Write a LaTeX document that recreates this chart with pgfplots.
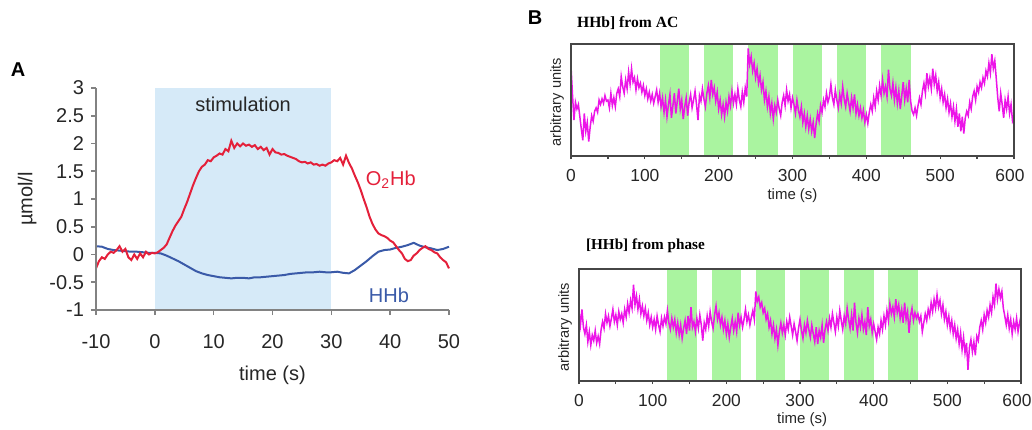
\documentclass[border=0pt]{standalone}
\usepackage{pgfplots}
\pgfplotsset{compat=1.18}
\usepackage{fontspec}
\setmainfont{Liberation Sans}
\newfontfamily\timesfont{Liberation Serif}
\definecolor{stimblue}{RGB}{214,234,248}
\definecolor{o2red}{RGB}{228,32,58}
\definecolor{hhbblue}{RGB}{58,90,168}
\definecolor{band}{RGB}{170,244,160}
\definecolor{mag}{RGB}{236,20,232}
\definecolor{axgray}{RGB}{130,130,130}
\definecolor{frame}{RGB}{70,70,70}
\begin{document}
\begin{tikzpicture}
\path[use as bounding box] (0,0) rectangle (516pt,214.5pt);
% ---------------- Panel A ----------------
\begin{axis}[
  at={(48pt,59.5pt)}, anchor=south west, scale only axis,
  width=176.5pt, height=111pt,
  xmin=-10, xmax=50, ymin=-1, ymax=3,
  axis x line*=bottom, axis y line*=left,
  axis line style={axgray, line width=0.8pt},
  every tick/.style={axgray, line width=0.8pt},
  tick align=outside, major tick length=2.5pt,
  xtick={-10,0,10,20,30,40,50},
  xticklabels={-10,0,10,20,30,40,50},
  ytick={-1,-0.5,0,0.5,1,1.5,2,2.5,3},
  yticklabels={-1,-0.5,0,0.5,1,1.5,2,2.5,3},
  ticklabel style={font=\fontsize{10}{12}\selectfont, text=black!85},
  xticklabel style={yshift=-6pt},
  xlabel={time (s)}, ylabel={µmol/l},
  label style={font=\fontsize{10}{12}\selectfont, text=black!85},
  xlabel style={at={(axis description cs:0.5,-0.293)}, anchor=center},
  ylabel style={at={(axis description cs:-0.195,0.5)}, anchor=center, rotate=0},
  clip=false, axis on top
]
\addplot[fill=stimblue, draw=none] coordinates {(0,-1) (0,3) (30,3) (30,-1)} -- cycle;
\addplot[hhbblue, line width=1pt] coordinates {
(-10,0.15)(-9,0.14)(-8,0.10)(-7,0.08)(-6,0.07)(-5,0.06)(-4,0.05)(-3,0.05)(-2,0.04)(-1,0.03)(0,0.03)(1,0.02)(2,-0.02)(3,-0.07)(4,-0.12)(5,-0.18)(6,-0.24)(7,-0.30)(8,-0.34)(9,-0.37)(10,-0.39)(11,-0.41)(12,-0.42)(13,-0.43)(14,-0.42)(15,-0.42)(16,-0.43)(17,-0.41)(18,-0.41)(19,-0.40)(20,-0.39)(21,-0.38)(22,-0.37)(23,-0.35)(24,-0.34)(25,-0.33)(26,-0.32)(27,-0.32)(28,-0.31)(29,-0.32)(30,-0.32)(31,-0.31)(32,-0.33)(33,-0.34)(34,-0.28)(35,-0.20)(36,-0.12)(37,-0.03)(38,0.05)(39,0.08)(40,0.09)(41,0.12)(42,0.14)(43,0.17)(44,0.21)(45,0.16)(46,0.13)(47,0.11)(48,0.08)(49,0.10)(50,0.14)};
\addplot[o2red, line width=1pt] coordinates {
(-10,-0.25)(-9.5,-0.12)(-9,-0.05)(-8.5,-0.08)(-8,0.0)(-7.5,0.05)(-7,0.03)(-6.5,0.08)(-6,0.15)(-5.5,0.05)(-5,0.10)(-4.5,-0.05)(-4,-0.10)(-3.5,0.0)(-3,-0.08)(-2.5,0.02)(-2,-0.05)(-1.5,0.05)(-1,0.0)(-0.5,0.03)(0,0.02)(0.5,0.04)(1,0.08)(1.5,0.12)(2,0.18)(2.5,0.30)(3,0.42)(3.5,0.52)(4,0.60)(4.5,0.68)(5,0.82)(5.5,0.95)(6,1.10)(6.5,1.25)(7,1.38)(7.5,1.50)(8,1.58)(8.5,1.62)(9,1.70)(9.5,1.68)(10,1.75)(10.5,1.78)(11,1.82)(11.5,1.80)(12,1.90)(12.5,1.86)(13,2.05)(13.5,1.92)(14,2.00)(14.5,1.95)(15,2.00)(15.5,1.96)(16,1.98)(16.5,1.94)(17,1.97)(17.5,1.90)(18,1.94)(18.5,1.88)(19,1.92)(19.5,1.80)(20,1.90)(20.5,1.84)(21,1.83)(21.5,1.80)(22,1.81)(22.5,1.78)(23,1.76)(23.5,1.74)(24,1.72)(24.5,1.68)(25,1.66)(25.5,1.67)(26,1.64)(26.5,1.66)(27,1.62)(27.5,1.63)(28,1.60)(28.5,1.62)(29,1.60)(29.5,1.64)(30,1.66)(30.5,1.70)(31,1.68)(31.5,1.74)(32,1.62)(32.5,1.78)(33,1.65)(33.5,1.55)(34,1.42)(34.5,1.30)(35,1.16)(35.5,1.00)(36,0.85)(36.5,0.68)(37,0.55)(37.5,0.45)(38,0.38)(38.5,0.35)(39,0.33)(39.5,0.30)(40,0.25)(40.5,0.22)(41,0.15)(41.5,0.08)(42,0.02)(42.5,-0.08)(43,-0.12)(43.5,-0.10)(44,-0.02)(44.5,0.02)(45,0.08)(45.5,0.12)(46,0.15)(46.5,0.10)(47,0.08)(47.5,0.04)(48,0.02)(48.5,-0.05)(49,-0.10)(49.5,-0.14)(50,-0.25)};
\node[font=\fontsize{10}{12}\selectfont, text=black!85] at (axis cs:15,2.7) {stimulation};
\node[font=\fontsize{10}{12}\selectfont, text=o2red] at (axis cs:40.1,1.34) {O\textsubscript{2}Hb};
\node[font=\fontsize{10}{12}\selectfont, text=hhbblue] at (axis cs:39.8,-0.73) {HHb};
\end{axis}
\node[font=\bfseries\fontsize{10}{12}\selectfont] at (9pt,179.5pt) {A};
\node[font=\bfseries\fontsize{10}{12}\selectfont] at (267.5pt,205.5pt) {B};
% ---------------- Panel B top ----------------
\pgfplotsset{panelB/.style={
  scale only axis, anchor=south west,
  xmin=0, xmax=600, ymin=0, ymax=10,
  ytick=\empty, xtick={0,100,...,600},
  xticklabels={0,100,200,300,400,500,\hspace*{-4pt}600}, minor x tick num=1,
  axis line style={frame, line width=0.7pt},
  every tick/.style={frame, line width=0.6pt},
  tick align=outside, xtick pos=bottom,
  major tick length=1.5pt, minor tick length=1.5pt,
  ticklabel style={font=\fontsize{8.7}{10}\selectfont, text=black!85},
  xticklabel style={yshift=-1.5pt},
  xlabel={time (s)}, ylabel={arbitrary units},
  xlabel style={font=\fontsize{7.5}{9}\selectfont, text=black!85, anchor=center},
  ylabel style={font=\fontsize{7.3}{9}\selectfont, text=black!85, anchor=center, rotate=0},
  title style={font=\timesfont\bfseries\fontsize{7.8}{9}\selectfont, anchor=west},
  clip=false, axis on top
}}
\begin{axis}[panelB,
  at={(285.5pt,136.5pt)}, width=221.5pt, height=56pt,
  xlabel style={at={(axis description cs:0.5,-0.357)}},
  ylabel style={at={(axis description cs:-0.0316,0.48)}},
  title={HHb] from AC}, title style={at={(axis description cs:-0.002,1.08)}}
]
\addplot[fill=band, draw=none] coordinates {(120,0)(120,10)(160,10)(160,0)} -- cycle;
\addplot[fill=band, draw=none] coordinates {(180,0)(180,10)(220,10)(220,0)} -- cycle;
\addplot[fill=band, draw=none] coordinates {(240,0)(240,10)(280,10)(280,0)} -- cycle;
\addplot[fill=band, draw=none] coordinates {(300,0)(300,10)(340,10)(340,0)} -- cycle;
\addplot[fill=band, draw=none] coordinates {(360,0)(360,10)(400,10)(400,0)} -- cycle;
\addplot[fill=band, draw=none] coordinates {(420,0)(420,10)(460,10)(460,0)} -- cycle;
\addplot[mag, line width=0.75pt] coordinates {
(0,8.0)(2,5.5)(4,3.2)(6,4.8)(8,4.2)(10,4.6)(12,3.5)(14,2.4)(16,1.4)(18,3.8)(20,2.2)(22,3.0)(24,1.3)(26,2.6)(28,3.6)(30,3.1)(32,4.0)(34,4.3)(36,3.9)(38,5.0)(40,4.6)(42,5.1)(44,4.7)(46,5.4)(48,4.9)(50,5.0)(52,4.3)(54,5.6)(56,4.5)(58,5.2)(60,4.4)(62,5.6)(64,6.0)(66,5.3)(68,7.1)(70,6.2)(72,5.6)(74,6.8)(76,6.0)(78,7.5)(80,6.4)(82,7.8)(84,6.6)(86,7.0)(88,5.9)(90,6.9)(92,6.1)(94,6.5)(96,5.7)(98,6.3)(100,5.4)(102,6.0)(104,5.1)(106,5.7)(108,4.9)(110,5.5)(112,4.7)(114,5.3)(116,5.9)(118,4.8)(120,5.6)(122,4.4)(124,5.2)(126,3.9)(128,5.0)(130,3.5)(132,4.6)(134,5.5)(136,3.4)(138,4.5)(140,5.6)(142,3.8)(144,4.9)(146,6.0)(148,4.2)(150,5.0)(152,3.3)(154,4.4)(156,5.2)(158,3.6)(160,4.8)(162,5.5)(164,4.3)(166,5.0)(168,5.8)(170,4.6)(172,3.2)(174,5.4)(176,4.9)(178,6.0)(180,5.1)(182,4.4)(184,5.6)(186,6.3)(188,5.2)(190,6.8)(192,5.5)(194,6.1)(196,4.9)(198,5.7)(200,4.2)(202,5.0)(204,3.7)(206,4.6)(208,3.5)(210,4.8)(212,4.0)(214,5.3)(216,4.5)(218,5.8)(220,4.7)(222,5.5)(224,4.6)(226,6.0)(228,5.0)(230,4.4)(232,5.7)(234,4.8)(236,6.1)(238,5.3)(240,9.6)(242,8.2)(244,8.9)(246,7.6)(248,8.3)(250,7.0)(252,7.8)(254,6.5)(256,7.2)(258,5.9)(260,6.6)(262,5.0)(264,5.8)(266,4.4)(268,5.3)(270,3.8)(272,4.7)(274,3.3)(276,4.5)(278,3.9)(280,5.0)(282,4.2)(284,3.6)(286,4.8)(288,5.4)(290,4.5)(292,5.9)(294,4.9)(296,5.5)(298,4.3)(300,5.2)(302,4.6)(304,3.8)(306,5.0)(308,4.1)(310,3.5)(312,4.4)(314,3.0)(316,3.8)(318,2.6)(320,3.6)(322,2.4)(324,3.3)(326,2.2)(328,3.0)(330,1.6)(332,2.9)(334,3.8)(336,3.1)(338,4.5)(340,3.9)(342,5.0)(344,4.4)(346,5.6)(348,4.8)(350,5.3)(352,6.4)(354,5.2)(356,4.6)(358,5.9)(360,5.0)(362,4.3)(364,5.5)(366,4.7)(368,6.2)(370,5.1)(372,4.4)(374,5.6)(376,4.8)(378,4.0)(380,5.2)(382,4.3)(384,5.5)(386,3.8)(388,4.6)(390,3.6)(392,4.3)(394,3.4)(396,4.1)(398,3.0)(400,3.7)(402,2.9)(404,3.9)(406,4.6)(408,4.0)(410,5.2)(412,4.4)(414,5.8)(416,5.0)(418,6.3)(420,5.4)(422,6.8)(424,5.6)(426,6.2)(428,5.3)(430,7.7)(432,6.0)(434,5.4)(436,6.5)(438,5.0)(440,6.1)(442,4.7)(444,5.8)(446,4.2)(448,5.4)(450,6.6)(452,5.0)(454,6.0)(456,4.8)(458,6.8)(460,4.9)(462,4.0)(464,3.7)(466,4.3)(468,3.6)(470,4.5)(472,5.2)(474,4.6)(476,5.8)(478,6.5)(480,5.6)(482,7.4)(484,6.2)(486,7.0)(488,6.0)(490,7.8)(492,6.4)(494,7.2)(496,5.8)(498,6.6)(500,5.2)(502,6.0)(504,4.8)(506,5.5)(508,4.3)(510,5.1)(512,3.9)(514,4.7)(516,3.5)(518,4.4)(520,3.1)(522,4.2)(524,2.6)(526,3.8)(528,2.2)(530,3.5)(532,2.0)(534,3.4)(536,4.0)(538,3.6)(540,4.8)(542,4.2)(544,5.3)(546,5.8)(548,5.0)(550,6.2)(552,5.7)(554,6.6)(556,6.1)(558,7.0)(560,6.5)(562,7.6)(564,7.1)(566,8.3)(568,7.4)(570,9.1)(572,7.8)(574,8.5)(576,6.9)(578,5.2)(580,4.0)(582,5.6)(584,4.6)(586,3.4)(588,5.0)(590,4.2)(592,5.3)(594,3.8)(596,4.6)(598,3.1)(600,3.4)};
\end{axis}
% ---------------- Panel B bottom ----------------
\begin{axis}[panelB,
  at={(289.5pt,24pt)}, width=221pt, height=56pt,
  xlabel style={at={(axis description cs:0.505,-0.348)}},
  ylabel style={at={(axis description cs:-0.0317,0.48)}},
  title={[HHb] from phase}, title style={at={(axis description cs:0,1.098)}, font=\timesfont\bfseries\fontsize{7.6}{9}\selectfont}
]
\addplot[fill=band, draw=none] coordinates {(120,0)(120,10)(160,10)(160,0)} -- cycle;
\addplot[fill=band, draw=none] coordinates {(180,0)(180,10)(220,10)(220,0)} -- cycle;
\addplot[fill=band, draw=none] coordinates {(240,0)(240,10)(280,10)(280,0)} -- cycle;
\addplot[fill=band, draw=none] coordinates {(300,0)(300,10)(340,10)(340,0)} -- cycle;
\addplot[fill=band, draw=none] coordinates {(360,0)(360,10)(400,10)(400,0)} -- cycle;
\addplot[fill=band, draw=none] coordinates {(420,0)(420,10)(460,10)(460,0)} -- cycle;
\addplot[mag, line width=0.75pt] coordinates {
(0,6.2)(2,5.0)(4,6.4)(6,4.8)(8,4.2)(10,5.0)(12,3.5)(14,4.4)(16,3.2)(18,4.1)(20,3.6)(22,4.5)(24,3.4)(26,4.0)(28,3.3)(30,4.6)(32,5.3)(34,4.7)(36,6.0)(38,5.2)(40,5.8)(42,4.9)(44,5.6)(46,6.4)(48,5.3)(50,5.9)(52,5.0)(54,6.2)(56,5.5)(58,6.0)(60,5.2)(62,6.4)(64,5.7)(66,6.9)(68,6.1)(70,7.2)(72,6.5)(74,8.6)(76,6.8)(78,7.6)(80,6.4)(82,7.3)(84,6.0)(86,6.7)(88,5.8)(90,6.5)(92,5.4)(94,6.1)(96,5.0)(98,5.7)(100,4.8)(102,5.5)(104,4.6)(106,5.8)(108,5.0)(110,4.4)(112,5.6)(114,4.9)(116,5.7)(118,5.1)(120,6.3)(122,5.2)(124,4.6)(126,5.6)(128,4.8)(130,5.5)(132,4.3)(134,5.2)(136,4.1)(138,5.0)(140,3.8)(142,4.7)(144,5.4)(146,4.2)(148,5.8)(150,4.5)(152,6.6)(154,4.8)(156,5.3)(158,4.4)(160,5.6)(162,4.7)(164,5.9)(166,5.0)(168,3.6)(170,5.2)(172,4.6)(174,5.8)(176,4.9)(178,6.2)(180,5.3)(182,4.7)(184,5.9)(186,6.7)(188,5.5)(190,6.1)(192,5.0)(194,5.7)(196,4.6)(198,5.4)(200,4.2)(202,5.1)(204,3.9)(206,4.8)(208,5.6)(210,4.5)(212,5.3)(214,4.4)(216,6.1)(218,5.0)(220,5.7)(222,4.8)(224,5.5)(226,6.4)(228,5.3)(230,5.9)(232,5.0)(234,5.7)(236,6.3)(238,5.5)(240,8.0)(242,7.1)(244,7.5)(246,6.6)(248,7.0)(250,6.1)(252,6.5)(254,5.5)(256,6.0)(258,4.8)(260,5.4)(262,4.2)(264,5.0)(266,3.8)(268,4.6)(270,3.2)(272,4.4)(274,5.2)(276,4.3)(278,5.0)(280,4.1)(282,5.3)(284,4.6)(286,5.7)(288,4.9)(290,4.1)(292,5.1)(294,4.4)(296,3.6)(298,4.7)(300,5.5)(302,4.5)(304,3.8)(306,5.0)(308,4.3)(310,5.4)(312,4.6)(314,3.9)(316,5.0)(318,4.2)(320,3.5)(322,4.8)(324,3.3)(326,4.5)(328,3.9)(330,5.0)(332,3.4)(334,4.6)(336,5.3)(338,4.5)(340,5.6)(342,4.8)(344,6.0)(346,5.2)(348,4.4)(350,5.7)(352,4.9)(354,6.3)(356,5.4)(358,4.6)(360,5.8)(362,5.1)(364,6.5)(366,5.5)(368,4.7)(370,5.9)(372,4.5)(374,7.0)(376,5.2)(378,4.3)(380,5.6)(382,4.8)(384,5.9)(386,4.6)(388,5.3)(390,4.1)(392,6.6)(394,4.9)(396,5.5)(398,4.3)(400,5.1)(402,4.4)(404,3.7)(406,4.8)(408,4.2)(410,5.4)(412,4.6)(414,5.8)(416,5.0)(418,6.3)(420,5.4)(422,6.9)(424,6.0)(426,6.6)(428,5.7)(430,7.3)(432,6.1)(434,6.8)(436,5.6)(438,6.4)(440,5.2)(442,7.0)(444,5.5)(446,6.2)(448,4.3)(450,5.8)(452,6.5)(454,5.4)(456,6.1)(458,5.6)(460,6.0)(462,5.3)(464,5.8)(466,4.4)(468,5.2)(470,6.0)(472,5.4)(474,6.4)(476,5.8)(478,7.0)(480,6.2)(482,7.3)(484,6.5)(486,7.7)(488,6.6)(490,7.2)(492,6.0)(494,6.8)(496,5.5)(498,6.2)(500,5.0)(502,5.8)(504,4.6)(506,5.4)(508,4.2)(510,5.0)(512,3.8)(514,4.6)(516,3.3)(518,4.3)(520,2.8)(522,3.9)(524,2.5)(526,3.4)(528,1.0)(530,3.0)(532,3.7)(534,2.6)(536,3.5)(538,2.3)(540,4.0)(542,3.6)(544,4.8)(546,5.4)(548,4.6)(550,5.9)(552,5.2)(554,6.3)(556,5.7)(558,6.8)(560,6.1)(562,7.5)(564,6.8)(566,8.7)(568,7.3)(570,8.2)(572,7.4)(574,8.0)(576,6.5)(578,5.8)(580,5.0)(582,5.9)(584,4.7)(586,5.5)(588,4.2)(590,5.3)(592,4.6)(594,5.6)(596,4.4)(598,5.2)(600,5.8)};
\end{axis}
\end{tikzpicture}
\end{document}
